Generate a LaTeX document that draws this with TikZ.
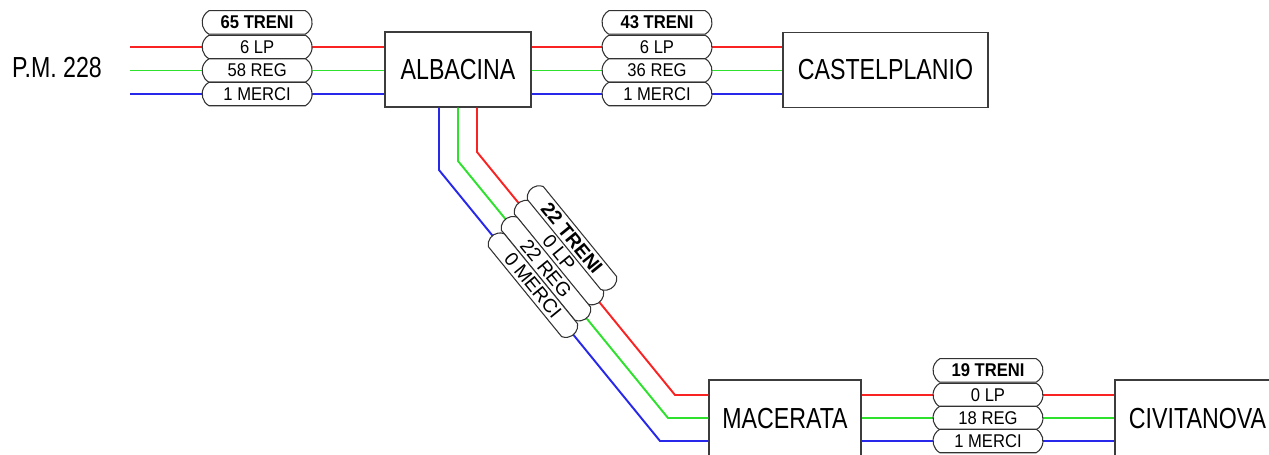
\documentclass[tikz,border=0pt]{standalone}
\usepackage{fontspec}
\setmainfont{Liberation Sans}
\newfontfamily\stationfont[FakeStretch=0.8]{Liberation Sans}
\newfontfamily\pillfont[FakeStretch=0.9]{Liberation Sans}
\usetikzlibrary{positioning,shapes.misc}
\definecolor{LineRed}{RGB}{250,35,35}
\definecolor{LineGreen}{RGB}{45,225,45}
\definecolor{LineBlue}{RGB}{40,40,235}
\definecolor{BoxGray}{RGB}{60,60,60}
\definecolor{PillGray}{RGB}{50,50,50}
\tikzset{
  station/.style={
    draw=BoxGray,
    line width=0.8pt,
    fill=white,
    minimum height=1.5cm,
    inner sep=0pt,
    font=\stationfont\fontsize{16.5}{18}\selectfont
  },
  pill/.style={
    rounded rectangle,
    rounded rectangle arc length=120,
    draw=PillGray,
    line width=0.6pt,
    fill=white,
    minimum width=2.2cm,
    minimum height=0.47cm,
    inner sep=0pt,
    font=\pillfont\fontsize{10.5}{11}\selectfont
  },
  trenipill/.style={pill,font=\pillfont\bfseries\fontsize{10.5}{11}\selectfont},
  diagpill/.style={pill,sloped,minimum width=2.56cm,minimum height=0.41cm,font=\fontsize{11}{12}\selectfont},
  lpline/.style={draw=LineRed,line width=1.1pt},
  regline/.style={draw=LineGreen,line width=1.1pt},
  merciline/.style={draw=LineBlue,line width=1.1pt}
}

\begin{document}
\begin{tikzpicture}[x=0.02cm,y=-0.02cm]
  \useasboundingbox (0,0) rectangle (1269,455);
  \clip (0,0) rectangle (1269,455);

  % stations
  \node[font=\stationfont\fontsize{16.5}{18}\selectfont] (pm) at (57,68) {P.M. 228};
  \node[station, minimum width=2.92cm] (alb) at (458,69.5) {ALBACINA};
  \node[station, minimum width=4.1cm] (cas) at (885.5,70) {CASTELPLANIO};
  \node[station, minimum width=3.04cm, minimum height=1.56cm] (mac) at (785,419) {MACERATA};
  \node[station, minimum width=3.3cm, minimum height=1.56cm] (civ) at (1197.5,419) {CIVITANOVA};

  \coordinate (startR) at (130,47);
  \coordinate (startG) at (130,70.5);
  \coordinate (startB) at (130,94);
  \coordinate (bendR1) at (477,152);
  \coordinate (bendG1) at (458,161);
  \coordinate (bendB1) at (439,170);
  \coordinate (bendR2) at (675,395);
  \coordinate (bendG2) at (668,418);
  \coordinate (bendB2) at (660,441);

  % P.M. 228 - Albacina
  \draw[lpline] (startR) -- node[pill] (lpA) {6 LP} (alb.west |- startR);
  \draw[regline] (startG) -- node[pill] (regA) {58 REG} (alb.west |- startG);
  \draw[merciline] (startB) -- node[pill] (merA) {1 MERCI} (alb.west |- startB);
  \node[trenipill, above=0pt of lpA] (trA) {65 TRENI};

  % Albacina - Castelplanio
  \draw[lpline] (alb.east |- startR) -- node[pill] (lpB) {6 LP} (cas.west |- startR);
  \draw[regline] (alb.east |- startG) -- node[pill] (regB) {36 REG} (cas.west |- startG);
  \draw[merciline] (alb.east |- startB) -- node[pill] (merB) {1 MERCI} (cas.west |- startB);
  \node[trenipill, above=0pt of lpB] (trB) {43 TRENI};

  % Albacina - Macerata
  \draw[lpline] (alb.south -| bendR1) -- (bendR1)
    -- node[diagpill, pos=0.414] (lpC) {0 LP} (bendR2) -- (mac.west |- bendR2);
  \draw[regline] (alb.south -| bendG1) -- (bendG1)
    -- node[diagpill, pos=0.419] (regC) {22 REG} (bendG2) -- (mac.west |- bendG2);
  \draw[merciline] (alb.south -| bendB1) -- (bendB1)
    -- node[diagpill, pos=0.425] (merC) {0 MERCI} (bendB2) -- (mac.west |- bendB2);
  \node[diagpill, rotate=-50.8, font=\bfseries\fontsize{11}{12}\selectfont] (trC) at (572,238) {22 TRENI};

  % Macerata - Civitanova
  \draw[lpline] (mac.east |- bendR2) -- node[pill] (lpD) {0 LP} (civ.west |- bendR2);
  \draw[regline] (mac.east |- bendG2) -- node[pill] (regD) {18 REG} (civ.west |- bendG2);
  \draw[merciline] (mac.east |- bendB2) -- node[pill] (merD) {1 MERCI} (civ.west |- bendB2);
  \node[trenipill, above=0pt of lpD] (trD) {19 TRENI};
\end{tikzpicture}
\end{document}
